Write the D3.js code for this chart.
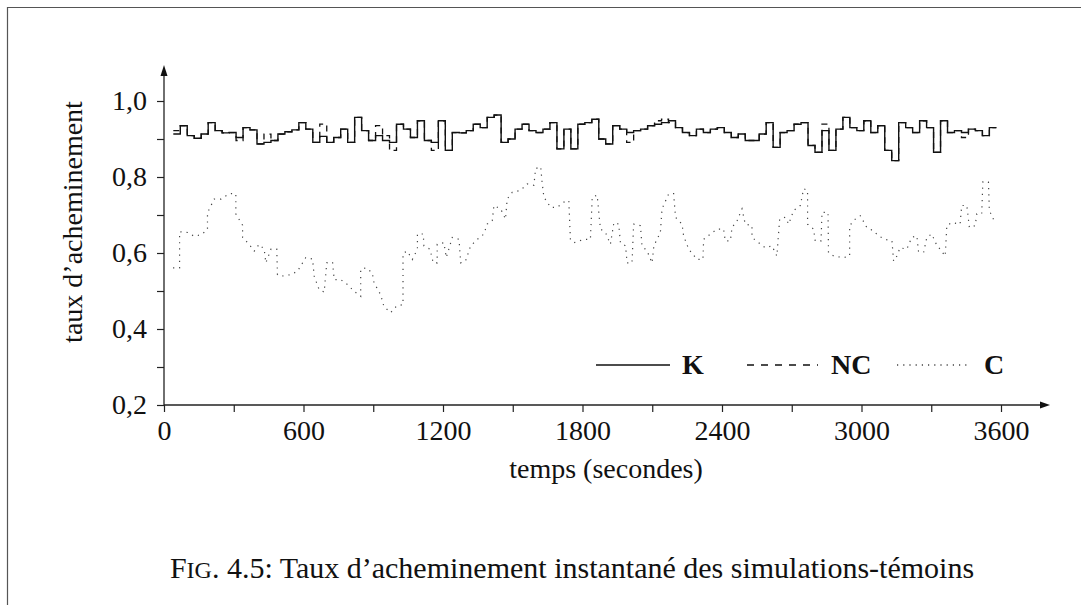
<!DOCTYPE html>
<html>
<head>
<meta charset="utf-8">
<script src="https://cdn.jsdelivr.net/npm/d3@7"></script>
<style>
  body { margin: 0; background: #fff; }
  text { font-family: "Liberation Serif", "Times New Roman", serif; fill: #111; }
</style>
</head>
<body>
<div id="chart"></div>
<script>
// sampling grid of the step series (seconds)
const stepTimes = d3.range(40, 3580, 30);

// K : taux d'acheminement (trait plein)
const kValues = [
  0.913,0.935,0.909,0.902,0.913,0.943,0.922,0.916,0.917,0.904,0.930,0.924,0.887,0.891,0.896,0.913,0.919,0.924,0.943,0.926,
  0.891,0.907,0.891,0.904,0.926,0.891,0.957,0.922,0.896,0.909,0.896,0.891,0.939,0.926,0.904,0.948,0.896,0.891,0.948,
  0.870,0.917,0.916,0.922,0.939,0.930,0.957,0.963,0.891,0.900,0.926,0.939,0.922,0.917,0.926,0.943,0.874,0.926,0.874,0.939,
  0.943,0.952,0.900,0.887,0.935,0.926,0.917,0.922,0.926,0.935,0.939,0.943,0.948,0.930,0.917,0.909,0.926,0.917,0.926,0.930,
  0.917,0.904,0.913,
  0.896,0.896,0.913,0.943,0.878,0.917,0.922,0.939,0.943,0.883,0.865,0.922,0.870,0.926,0.957,0.930,0.922,0.948,0.917,0.935,
  0.870,0.843,0.943,0.930,0.917,0.948,0.930,0.865,0.948,0.917,0.922,0.917,0.926,0.922,0.909,0.930
];

// NC : (tirets)
const ncValues = [
  0.922,0.935,0.909,0.902,0.913,0.943,0.922,0.916,0.917,0.896,0.930,0.924,0.887,0.913,0.896,0.913,0.919,0.924,0.943,0.926,
  0.891,0.939,0.891,0.904,0.926,0.891,0.957,0.922,0.896,0.935,0.909,0.870,0.939,0.926,0.904,0.948,0.896,0.870,0.948,
  0.870,0.917,0.916,0.922,0.939,0.930,0.957,0.963,0.891,0.900,0.926,0.939,0.922,0.917,0.926,0.943,0.874,0.926,0.874,0.939,
  0.943,0.952,0.900,0.887,0.935,0.926,0.891,0.922,0.926,0.935,0.948,0.952,0.943,0.930,0.917,0.909,0.926,0.917,0.926,0.930,
  0.917,0.904,0.913,
  0.896,0.896,0.913,0.943,0.878,0.917,0.922,0.939,0.943,0.883,0.865,0.939,0.870,0.926,0.957,0.930,0.922,0.948,0.917,0.935,
  0.870,0.843,0.943,0.930,0.917,0.948,0.930,0.865,0.948,0.917,0.922,0.904,0.926,0.922,0.909,0.930
];

// C : (pointillés) - times and values
const cTimes = [
  39,67,67,102,130,159,187,187,216,245,280,309,309,338,338,366,388,409,431,438,
  460,485,488,503,545,574,610,639,646,667,689,700,725,732,760,789,818,846,846,868,
  896,903,932,946,975,1001,1028,1028,1046,1068,1090,1090,1115,1118,1144,1158,1175,1175,1204,1214,
  1240,1269,1276,1297,1319,1348,1376,1390,1412,1419,1448,1469,1476,1498,1534,1562,1591,1598,1620,1627,
  1634,1663,1691,1720,1741,1748,1763,1806,1834,1842,1863,1877,1899,1920,1935,1956,1963,1985,1992,2013,
  2020,2049,2056,2078,2099,2107,2135,2142,2171,2192,2200,2228,2235,2257,2293,2318,2321,2350,2379,2407,
  2414,2436,2443,2465,2486,2500,2529,2529,2558,2586,2615,2636,2648,2672,2687,2708,2737,2751,2768,2768,
  2794,2801,2826,2830,2856,2858,2880,2923,2949,2949,2973,2995,3023,3052,3073,3102,3131,3138,3152,3166,
  3195,3216,3238,3245,3267,3281,3302,3324,3338,3360,3367,3388,3424,3431,3453,3464,3489,3496,3517,3522,
  3546,3550,3574
];
const cValues = [
  0.561,0.561,0.656,0.654,0.644,0.648,0.661,0.706,0.742,0.742,0.756,0.756,0.703,0.673,0.641,0.623,0.605,0.623,0.610,0.574,
  0.610,0.610,0.543,0.539,0.543,0.552,0.588,0.584,0.539,0.504,0.497,0.574,0.576,0.530,0.530,0.517,0.499,0.486,0.557,0.561,
  0.548,0.522,0.490,0.459,0.443,0.461,0.464,0.599,0.605,0.583,0.610,0.650,0.650,0.619,0.610,0.574,0.574,0.623,0.627,0.588,
  0.641,0.636,0.574,0.579,0.619,0.636,0.650,0.676,0.685,0.725,0.716,0.689,0.742,0.760,0.765,0.782,0.778,0.822,0.827,0.782,
  0.747,0.720,0.720,0.734,0.738,0.636,0.627,0.636,0.636,0.747,0.752,0.663,0.654,0.623,0.680,0.676,0.627,0.619,0.574,0.574,
  0.676,0.672,0.619,0.605,0.574,0.619,0.654,0.716,0.756,0.756,0.694,0.676,0.645,0.610,0.583,0.583,0.636,0.650,0.663,0.663,
  0.632,0.632,0.667,0.685,0.716,0.676,0.672,0.641,0.627,0.614,0.619,0.592,0.689,0.694,0.676,0.712,0.725,0.769,0.765,0.676,
  0.663,0.632,0.632,0.707,0.707,0.601,0.592,0.588,0.592,0.672,0.689,0.698,0.667,0.658,0.645,0.636,0.632,0.579,0.592,0.614,
  0.610,0.641,0.645,0.605,0.601,0.641,0.650,0.620,0.610,0.592,0.672,0.680,0.676,0.725,0.725,0.667,0.672,0.703,0.703,0.787,
  0.787,0.712,0.680
];

const xTicks = d3.range(0, 3601, 300);
const yTicks = [0.2, 0.3, 0.4, 0.5, 0.6, 0.7, 0.8, 0.9, 1.0];

const svgWidth = 1081, svgHeight = 605;

const svg = d3.select("#chart").append("svg")
  .attr("width", svgWidth)
  .attr("height", svgHeight);

// page frame (top and left edges)
svg.append("path")
  .attr("d", `M7.5,${svgHeight} L7.5,7.5 L${svgWidth},7.5`)
  .attr("fill", "none")
  .attr("stroke", "#555")
  .attr("stroke-width", 1.2);

const xScale = d3.scaleLinear().domain([0, 3600]).range([164, 1001]);
const yScale = d3.scaleLinear().domain([0.2, 1.0]).range([405, 101]);

const x0 = xScale(0), y0 = yScale(0.2);

// axes
const bottomAxis = d3.axisBottom(xScale)
  .tickValues(xTicks)
  .tickSize(7)
  .tickPadding(8)
  .tickFormat(d => d % 600 === 0 ? d : "");
const leftAxis = d3.axisLeft(yScale)
  .tickValues(yTicks)
  .tickSize(7)
  .tickPadding(10)
  .tickFormat(d => (Math.round(d * 10) % 2 === 0) ? d3.format(".1f")(d).replace(".", ",") : "");

const gx = svg.append("g").attr("transform", `translate(0,${y0})`).call(bottomAxis);
const gy = svg.append("g").attr("transform", `translate(${x0},0)`).call(leftAxis);
[gx, gy].forEach(g => {
  g.select(".domain").remove();
  g.selectAll(".tick line").attr("stroke", "#222").attr("stroke-width", 1.2);
  g.selectAll(".tick text").style("font-family", "Liberation Serif").style("font-size", "28px").attr("fill", "#111");
});

// axis lines with arrows
svg.append("line").attr("x1", x0).attr("y1", y0).attr("x2", 1046).attr("y2", y0)
  .attr("stroke", "#222").attr("stroke-width", 1.3);
svg.append("line").attr("x1", x0).attr("y1", y0).attr("x2", x0).attr("y2", 70)
  .attr("stroke", "#222").attr("stroke-width", 1.3);
svg.append("path").attr("d", `M1050,${y0} L1040,${y0 - 3.5} L1040,${y0 + 3.5} Z`).attr("fill", "#111");
svg.append("path").attr("d", `M${x0},65 L${x0 - 3.5},76 L${x0 + 3.5},76 Z`).attr("fill", "#111");

// series
function stepPoints(values) {
  const pts = values.map((v, i) => [stepTimes[i], v]);
  pts.push([stepTimes[values.length - 1] + 30, values[values.length - 1]]);
  return pts;
}

const stepLine = d3.line()
  .x(d => xScale(d[0]))
  .y(d => yScale(d[1]))
  .curve(d3.curveStepAfter);

const plainLine = d3.line()
  .x(d => xScale(d[0]))
  .y(d => yScale(d[1]));

svg.append("path")
  .attr("d", stepLine(stepPoints(ncValues)))
  .attr("fill", "none")
  .attr("stroke", "#111")
  .attr("stroke-width", 1.3)
  .attr("stroke-dasharray", "6,5");

svg.append("path")
  .attr("d", stepLine(stepPoints(kValues)))
  .attr("fill", "none")
  .attr("stroke", "#111")
  .attr("stroke-width", 1.4);

svg.append("path")
  .attr("d", plainLine(cTimes.map((t, i) => [t, cValues[i]])))
  .attr("fill", "none")
  .attr("stroke", "#444")
  .attr("stroke-width", 1.2)
  .attr("stroke-dasharray", "1.2,5");

// legend
const legendY = 365;
const legendItems = [
  { name: "K", x1: 596, x2: 670, tx: 682, dash: null, color: "#111" },
  { name: "NC", x1: 747, x2: 818, tx: 831, dash: "7,7", color: "#111" },
  { name: "C", x1: 897, x2: 968, tx: 984, dash: "1.2,5", color: "#444" }
];
legendItems.forEach(item => {
  svg.append("line")
    .attr("x1", item.x1).attr("x2", item.x2)
    .attr("y1", legendY).attr("y2", legendY)
    .attr("stroke", item.color)
    .attr("stroke-width", 1.3)
    .attr("stroke-dasharray", item.dash);
  svg.append("text")
    .attr("x", item.tx).attr("y", legendY + 9)
    .style("font-size", "28px")
    .style("font-weight", "bold")
    .text(item.name);
});

// axis titles
svg.append("text")
  .attr("x", 606).attr("y", 478)
  .attr("text-anchor", "middle")
  .style("font-size", "28px")
  .text("temps (secondes)");

svg.append("text")
  .attr("transform", `translate(82, 222) rotate(-90)`)
  .attr("text-anchor", "middle")
  .style("font-size", "28px")
  .text("taux d’acheminement");

// caption
const caption = svg.append("text")
  .attr("x", 572).attr("y", 578)
  .attr("text-anchor", "middle")
  .style("font-size", "30px");
caption.append("tspan").text("F");
caption.append("tspan").style("font-size", "24px").text("IG");
caption.append("tspan").text(". 4.5: Taux d’acheminement instantané des simulations-témoins");
</script>
</body>
</html>
